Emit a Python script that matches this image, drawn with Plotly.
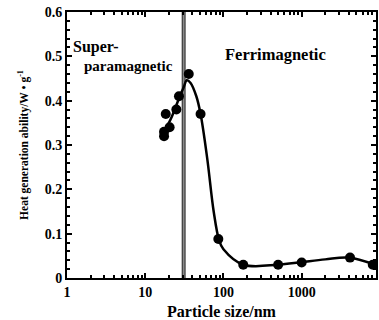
import plotly.graph_objects as go

# measured points
size_nm = [17.4, 17.4, 18.3, 20.5, 25, 27, 36, 51, 86, 179, 500, 1000, 4150, 8100]
heat = [0.32, 0.33, 0.37, 0.34, 0.38, 0.41, 0.46, 0.37, 0.088, 0.03, 0.03, 0.035, 0.046, 0.03]

# fitted curve
curve_x = [17, 22, 27, 31, 34, 38, 45, 51, 62, 75, 88, 100, 180, 500, 1000, 2000, 4000, 8500]
curve_y = [0.325, 0.365, 0.405, 0.43, 0.446, 0.44, 0.41, 0.37, 0.27, 0.15, 0.085, 0.065, 0.03, 0.03, 0.036, 0.042, 0.046, 0.03]

boundary_nm = 31
x_ticks = [1, 10, 100, 1000]
x_minor = [m * d for d in [1, 10, 100, 1000] for m in range(2, 10)]
y_ticks = [0, 0.1, 0.2, 0.3, 0.4, 0.5, 0.6]
y_ticklabels = ["0", "0.1", "0.2", "0.3", "0.4", "0.5", "0.6"]

font = "Liberation Serif"

fig = go.Figure()
fig.add_trace(go.Scatter(x=[boundary_nm, boundary_nm], y=[0, 0.6], mode="lines",
                         line=dict(color="#404040", width=4), showlegend=False))
fig.add_trace(go.Scatter(x=[boundary_nm, boundary_nm], y=[0, 0.6], mode="lines",
                         line=dict(color="#8a8a8a", width=1.5), showlegend=False))
fig.add_trace(go.Scatter(x=curve_x, y=curve_y, mode="lines", line_shape="spline",
                         line=dict(color="black", width=2.5), showlegend=False))
fig.add_trace(go.Scatter(x=size_nm, y=heat, mode="markers",
                         marker=dict(color="black", size=10), showlegend=False))

fig.add_annotation(x=0.013, y=0.52, xref="paper", yref="y", text="Super-", showarrow=False,
                   xanchor="left", yanchor="middle", font=dict(family=font, size=16, color="black", weight="bold"))
fig.add_annotation(x=0.05, y=0.478, xref="paper", yref="y", text="paramagnetic", showarrow=False,
                   xanchor="left", yanchor="middle", font=dict(family=font, size=15, color="black", weight="bold"))
fig.add_annotation(x=0.676, y=0.505, xref="paper", yref="y", text="Ferrimagnetic", showarrow=False,
                   xanchor="center", yanchor="middle", font=dict(family=font, size=16.5, color="black", weight="bold"))

fig.update_layout(
    width=379, height=320,
    margin=dict(l=67, r=1, t=12, b=41),
    plot_bgcolor="white", paper_bgcolor="white",
    font=dict(family=font, size=13, color="black"),
)
fig.update_xaxes(type="log", range=[0, 3.95], showline=True, linecolor="black", linewidth=2,
                 mirror="ticks", ticks="inside", ticklen=5, tickwidth=1.5, tickcolor="black",
                 tickmode="array", tickvals=x_ticks, ticktext=[str(v) for v in x_ticks],
                 tickfont=dict(family=font, size=14, weight="bold"),
                 minor=dict(tickmode="array", tickvals=x_minor, ticks="inside", ticklen=3, tickcolor="black", showgrid=False),
                 showgrid=False, zeroline=False,
                 title=dict(text="Particle size/nm", font=dict(family=font, size=16, weight="bold"), standoff=8))
fig.update_yaxes(range=[0, 0.6], showline=True, linecolor="black", linewidth=2,
                 mirror="ticks", ticks="inside", ticklen=5, tickwidth=1.5, tickcolor="black",
                 tickmode="array", tickvals=y_ticks, ticktext=y_ticklabels,
                 tickfont=dict(family=font, size=14, weight="bold"),
                 minor=dict(dtick=0.02, ticks="inside", ticklen=3, tickcolor="black", showgrid=False),
                 showgrid=False, zeroline=False,
                 title=dict(text="Heat generation ability/W • g<sup>-1</sup>", font=dict(family=font, size=11.5, weight="bold"), standoff=14))

fig.write_html("out.html")
